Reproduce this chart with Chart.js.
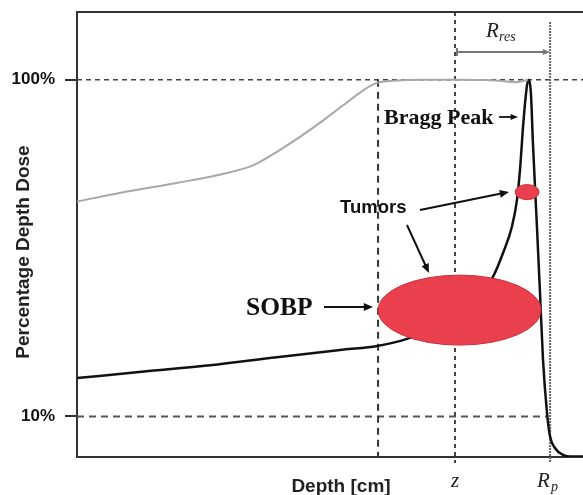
<!DOCTYPE html>
<html>
<head>
<meta charset="utf-8">
<script src="https://cdn.jsdelivr.net/npm/chart.js@4/dist/chart.umd.min.js"></script>
<style>
  body { margin: 0; background: #fff; }
  #wrap { width: 583px; height: 495px; }
</style>
</head>
<body>
<div id="wrap"><canvas id="braggChart" width="583" height="495"></canvas></div>
<script>
// === Data (depth in cm, dose in %) ===
const depthBragg = [0, 2.65, 5.26, 7.9, 10.55, 11.86, 13.04, 14.35, 15.53, 16.44, 16.84, 17.19, 17.39, 17.51, 17.63, 17.75, 17.83, 17.94, 18.02, 18.18, 18.30, 18.42, 18.58, 18.70, 18.89, 19.21, 19.6, 20];
const doseBragg = [13.0, 13.6, 14.2, 15.0, 15.8, 16.2, 17.0, 18.7, 21.4, 26.0, 30.6, 36.6, 44.0, 54.0, 72.5, 91.5, 100, 91.5, 65.0, 36.6, 23.3, 14.7, 10.2, 8.7, 8.06, 7.69, 7.6, 7.6];

const depthSobp = [0, 1.98, 3.95, 5.93, 7.0, 7.9, 9.21, 10.55, 11.34, 11.86, 12.53, 13.56, 15.14, 16.72, 17.31, 17.83];
const doseSobp = [43.5, 46.6, 49.4, 52.9, 55.9, 61.1, 71.0, 84.3, 93.4, 97.9, 99.3, 100, 100, 99.3, 98.3, 100];

const yTickValues = [10, 100];
const sobpStart = 11.9;   // left dashed line
const zDepth = 14.94;     // z
const rpDepth = 18.7;     // R_p

// tumour spots (centre in data units)
const bigTumor = { x: 15.12, y: 20.7 };
const smallTumor = { x: 17.79, y: 46.4 };

const SANS = "'Liberation Sans', Arial, sans-serif";
const SERIF = "'Liberation Serif', 'Times New Roman', serif";

function toPoints(xs, ys) {
  return xs.map((x, i) => ({ x: x, y: ys[i] }));
}

function arrow(ctx, x1, y1, x2, y2, head) {
  const a = Math.atan2(y2 - y1, x2 - x1);
  ctx.beginPath();
  ctx.moveTo(x1, y1);
  ctx.lineTo(x2 - Math.cos(a) * head * 0.8, y2 - Math.sin(a) * head * 0.8);
  ctx.stroke();
  ctx.beginPath();
  ctx.moveTo(x2, y2);
  ctx.lineTo(x2 - head * Math.cos(a - 0.4), y2 - head * Math.sin(a - 0.4));
  ctx.lineTo(x2 - head * Math.cos(a + 0.4), y2 - head * Math.sin(a + 0.4));
  ctx.closePath();
  ctx.fill();
}

// === Dashed guide lines, drawn under the curves ===
const guides = {
  id: 'guides',
  beforeDatasetsDraw(chart) {
    const { ctx, chartArea: a, scales: { x, y } } = chart;
    ctx.save();
    ctx.strokeStyle = '#444';

    // 100% line
    ctx.lineWidth = 1.5;
    ctx.setLineDash([5, 4]);
    ctx.beginPath();
    ctx.moveTo(a.left, y.getPixelForValue(100));
    ctx.lineTo(a.right, y.getPixelForValue(100));
    ctx.stroke();

    // 10% line
    ctx.lineWidth = 2;
    ctx.strokeStyle = '#555';
    ctx.setLineDash([7, 5]);
    ctx.beginPath();
    ctx.moveTo(a.left, y.getPixelForValue(10));
    ctx.lineTo(x.getPixelForValue(18.55), y.getPixelForValue(10));
    ctx.stroke();

    // SOBP start
    ctx.strokeStyle = '#333';
    ctx.setLineDash([7, 5]);
    ctx.beginPath();
    ctx.moveTo(x.getPixelForValue(sobpStart), y.getPixelForValue(100));
    ctx.lineTo(x.getPixelForValue(sobpStart), a.bottom);
    ctx.stroke();

    // z
    ctx.strokeStyle = '#444';
    ctx.setLineDash([4, 4]);
    ctx.beginPath();
    ctx.moveTo(x.getPixelForValue(zDepth), a.top);
    ctx.lineTo(x.getPixelForValue(zDepth), a.bottom + 6);
    ctx.stroke();

    // R_p
    ctx.strokeStyle = '#666';
    ctx.setLineDash([2, 1]);
    ctx.beginPath();
    ctx.moveTo(x.getPixelForValue(rpDepth), a.top + 10);
    ctx.lineTo(x.getPixelForValue(rpDepth), a.bottom + 6);
    ctx.stroke();
    ctx.restore();
  }
};

// === Tumours, arrows and labels, drawn over the curves ===
const notes = {
  id: 'notes',
  afterDatasetsDraw(chart) {
    const { ctx, chartArea: a, scales: { x, y } } = chart;
    ctx.save();

    // tumours
    ctx.fillStyle = '#ea3f4c';
    ctx.strokeStyle = '#c9303c';
    ctx.lineWidth = 1;
    ctx.beginPath();
    ctx.ellipse(x.getPixelForValue(bigTumor.x), y.getPixelForValue(bigTumor.y), 81.5, 35, 0, 0, Math.PI * 2);
    ctx.fill();
    ctx.stroke();
    ctx.beginPath();
    ctx.ellipse(x.getPixelForValue(smallTumor.x), y.getPixelForValue(smallTumor.y), 12, 7.5, 0, 0, Math.PI * 2);
    ctx.fill();
    ctx.stroke();

    // frame top line
    ctx.strokeStyle = '#333';
    ctx.lineWidth = 2;
    ctx.beginPath();
    ctx.moveTo(a.left, a.top);
    ctx.lineTo(a.right, a.top);
    ctx.stroke();

    // text
    ctx.fillStyle = '#111';
    ctx.strokeStyle = '#111';
    ctx.textBaseline = 'middle';

    ctx.font = 'bold 22px ' + SERIF;
    ctx.textAlign = 'left';
    ctx.fillText('Bragg Peak', 384, 118);
    ctx.lineWidth = 1.8;
    arrow(ctx, 499, 117, 518, 117, 8);

    ctx.font = 'bold 18.5px ' + SANS;
    ctx.fillText('Tumors', 340, 208);
    ctx.lineWidth = 2;
    arrow(ctx, 420, 210, 509, 192, 10);
    arrow(ctx, 407, 225, 429, 273, 10);

    ctx.font = 'bold 25.5px ' + SERIF;
    ctx.fillText('SOBP', 246, 308);
    arrow(ctx, 324, 307, 373, 307, 10);

    // R_res arrow
    ctx.strokeStyle = '#777';
    ctx.fillStyle = '#777';
    ctx.lineWidth = 2;
    const rx1 = x.getPixelForValue(zDepth) + 2, rx2 = x.getPixelForValue(rpDepth);
    arrow(ctx, rx1, 52, rx2, 52, 8);
    ctx.beginPath();
    ctx.moveTo(rx1, 48);
    ctx.lineTo(rx1, 56);
    ctx.stroke();

    ctx.fillStyle = '#222';
    ctx.font = 'italic 21px ' + SERIF;
    ctx.fillText('R', 486, 31);
    ctx.font = 'italic 14px ' + SERIF;
    ctx.fillText('res', 499, 37);

    // axis titles & x labels
    ctx.font = 'bold 19px ' + SANS;
    ctx.textAlign = 'center';
    ctx.fillText('Depth [cm]', 341, 487);

    ctx.font = 'italic 21px ' + SERIF;
    ctx.fillText('z', x.getPixelForValue(zDepth), 481);
    ctx.textAlign = 'left';
    ctx.fillText('R', 537, 481);
    ctx.font = 'italic 14px ' + SERIF;
    ctx.fillText('p', 551, 487);

    ctx.translate(24, 252);
    ctx.rotate(-Math.PI / 2);
    ctx.textAlign = 'center';
    ctx.font = 'bold 19px ' + SANS;
    ctx.fillText('Percentage Depth Dose', 0, 0);
    ctx.restore();
  }
};

new Chart(document.getElementById('braggChart'), {
  type: 'line',
  data: {
    datasets: [
      {
        label: 'SOBP',
        data: toPoints(depthSobp, doseSobp),
        borderColor: '#a8a8a8',
        borderWidth: 2,
        pointRadius: 0,
        cubicInterpolationMode: 'monotone'
      },
      {
        label: 'Bragg peak',
        data: toPoints(depthBragg, doseBragg),
        borderColor: '#111',
        borderWidth: 2.5,
        pointRadius: 0,
        cubicInterpolationMode: 'monotone'
      }
    ]
  },
  options: {
    responsive: false,
    animation: false,
    layout: { padding: { top: 12, right: 0, bottom: 0, left: 0 } },
    plugins: { legend: { display: false }, tooltip: { enabled: false } },
    scales: {
      x: {
        type: 'linear',
        min: 0,
        max: 20,
        afterFit: s => { s.height = 38; s.paddingLeft = 0; s.paddingRight = 0; },
        ticks: { display: false },
        grid: { display: false },
        border: { color: '#333', width: 2 }
      },
      y: {
        type: 'logarithmic',
        min: 7.58,
        max: 159,
        afterFit: s => { s.width = 77; s.paddingTop = 0; s.paddingBottom = 0; },
        afterBuildTicks: s => { s.ticks = yTickValues.map(v => ({ value: v })); },
        ticks: {
          padding: 10,
          color: '#111',
          font: { family: SANS, size: 17, weight: 'bold' },
          callback: v => v + '%'
        },
        grid: { drawOnChartArea: false, tickLength: 12, color: '#333', lineWidth: 2 },
        border: { color: '#333', width: 2 }
      }
    }
  },
  plugins: [guides, notes]
});
</script>
</body>
</html>
